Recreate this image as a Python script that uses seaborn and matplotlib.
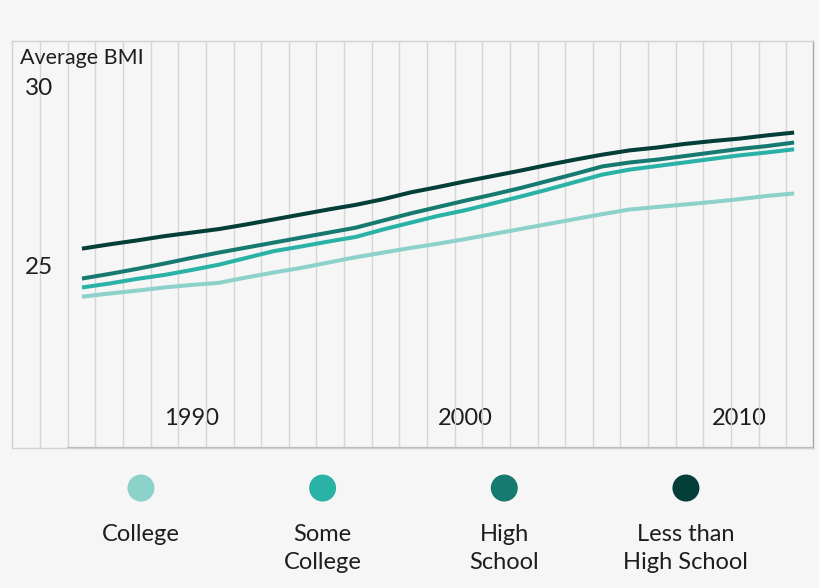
import matplotlib
matplotlib.use("Agg")
import matplotlib.pyplot as plt
import numpy as np
import pandas as pd
import seaborn as sns

# average BMI by education level
years = list(range(1986, 2013))
college = [24.11, 24.20, 24.28, 24.37, 24.44, 24.50, 24.65, 24.79, 24.92, 25.07,
           25.22, 25.35, 25.48, 25.60, 25.73, 25.87, 26.01, 26.15, 26.29, 26.43,
           26.56, 26.63, 26.70, 26.77, 26.85, 26.94, 27.01]
some_college = [24.37, 24.48, 24.61, 24.72, 24.86, 25.01, 25.20, 25.39, 25.52, 25.66,
                25.79, 26.00, 26.19, 26.38, 26.54, 26.73, 26.92, 27.12, 27.33, 27.54,
                27.68, 27.78, 27.88, 27.98, 28.08, 28.16, 28.25]
high_school = [24.62, 24.75, 24.89, 25.04, 25.20, 25.35, 25.49, 25.63, 25.77, 25.91,
               26.05, 26.25, 26.45, 26.63, 26.81, 26.98, 27.16, 27.36, 27.56, 27.77,
               27.88, 27.96, 28.06, 28.16, 28.26, 28.34, 28.44]
less_than_hs = [25.46, 25.58, 25.69, 25.81, 25.91, 26.01, 26.14, 26.28, 26.42, 26.56,
                26.69, 26.85, 27.04, 27.19, 27.35, 27.50, 27.65, 27.81, 27.96, 28.10,
                28.22, 28.30, 28.40, 28.48, 28.55, 28.64, 28.72]

groups = ["College", "Some College", "High School", "Less than High School"]
legend_labels = ["College", "Some\nCollege", "High\nSchool", "Less than\nHigh School"]
colors = ["#8dd1cb", "#2bb2a6", "#177a70", "#033e39"]
x_ticks = [1990, 2000, 2010]
y_ticks = [25, 30]

BG = "#f6f6f6"
TEXT = "#1e1e1e"

sns.set_theme(style="white")
plt.rcParams["font.family"] = ["Lato", "DejaVu Sans"]

df = pd.DataFrame({
    "year": years * 4,
    "bmi": college + some_college + high_school + less_than_hs,
    "group": np.repeat(groups, len(years)),
})
palette = dict(zip(groups, colors))

fig = plt.figure(figsize=(8.2, 5.88), dpi=100, facecolor=BG)
ax = fig.add_axes([0.0141, 0.2386, 0.9774, 0.6922], facecolor=BG)

sns.lineplot(data=df, x="year", y="bmi", hue="group", hue_order=groups,
             palette=palette, linewidth=2.9, legend=False, ax=ax,
             solid_capstyle="butt")

ax.set_xlim(1983.43, 2012.69)
ax.set_ylim(19.87, 31.30)

# vertical grid lines
ax.set_xticks(1984.47 + np.arange(28) * 1.009, minor=True)
ax.grid(which="minor", axis="x", color="#d6d6d6", linewidth=1.0)
ax.grid(which="major", visible=False)
ax.tick_params(which="minor", length=0)

ax.set_xticks(x_ticks)
ax.set_xticklabels([str(t) for t in x_ticks], fontsize=17, color=TEXT)
ax.tick_params(axis="x", length=0, pad=-21.0)
for lab in ax.get_xticklabels():
    lab.set_verticalalignment("center")

ax.set_yticks(y_ticks)
ax.set_yticklabels([str(t) for t in y_ticks], fontsize=17.5, color=TEXT)
ax.tick_params(axis="y", length=0, pad=-9.5)
for lab in ax.get_yticklabels():
    lab.set_horizontalalignment("left")

ax.set_xlabel("")
ax.set_ylabel("")
ax.text(0.0105, 0.9575, "Average BMI", transform=ax.transAxes, fontsize=15.5,
        color=TEXT, ha="left", va="center")

for side in ["left", "top"]:
    ax.spines[side].set_color("#d2d2d2")
ax.spines["bottom"].set_color("#d2d2d2")
ax.spines["right"].set_color("#a8a8a8")
for sp in ax.spines.values():
    sp.set_linewidth(1.0)
ax.axhline(19.87, xmin=(68 - 11.6) / 801.4, xmax=1, color="#b8b8b8",
           linewidth=1.6, clip_on=False)

# legend row: dots over centred labels
lax = fig.add_axes([0, 0, 1, 0.2], facecolor=BG)
leg_df = pd.DataFrame({"group": groups, "y": [0.85] * 4})
sns.scatterplot(data=leg_df, x="group", y="y", hue="group", hue_order=groups,
                palette=palette, s=378, edgecolor="none", legend=False, ax=lax)
lax.set_xlim(-0.776, 3.738)
lax.set_ylim(0, 1)
for i, lab in enumerate(legend_labels):
    lax.text(i, 0.545, lab, ha="center", va="top", fontsize=17, color=TEXT,
             linespacing=1.4, multialignment="center")
lax.axis("off")

fig.savefig("out.png", dpi=100, facecolor=BG)
